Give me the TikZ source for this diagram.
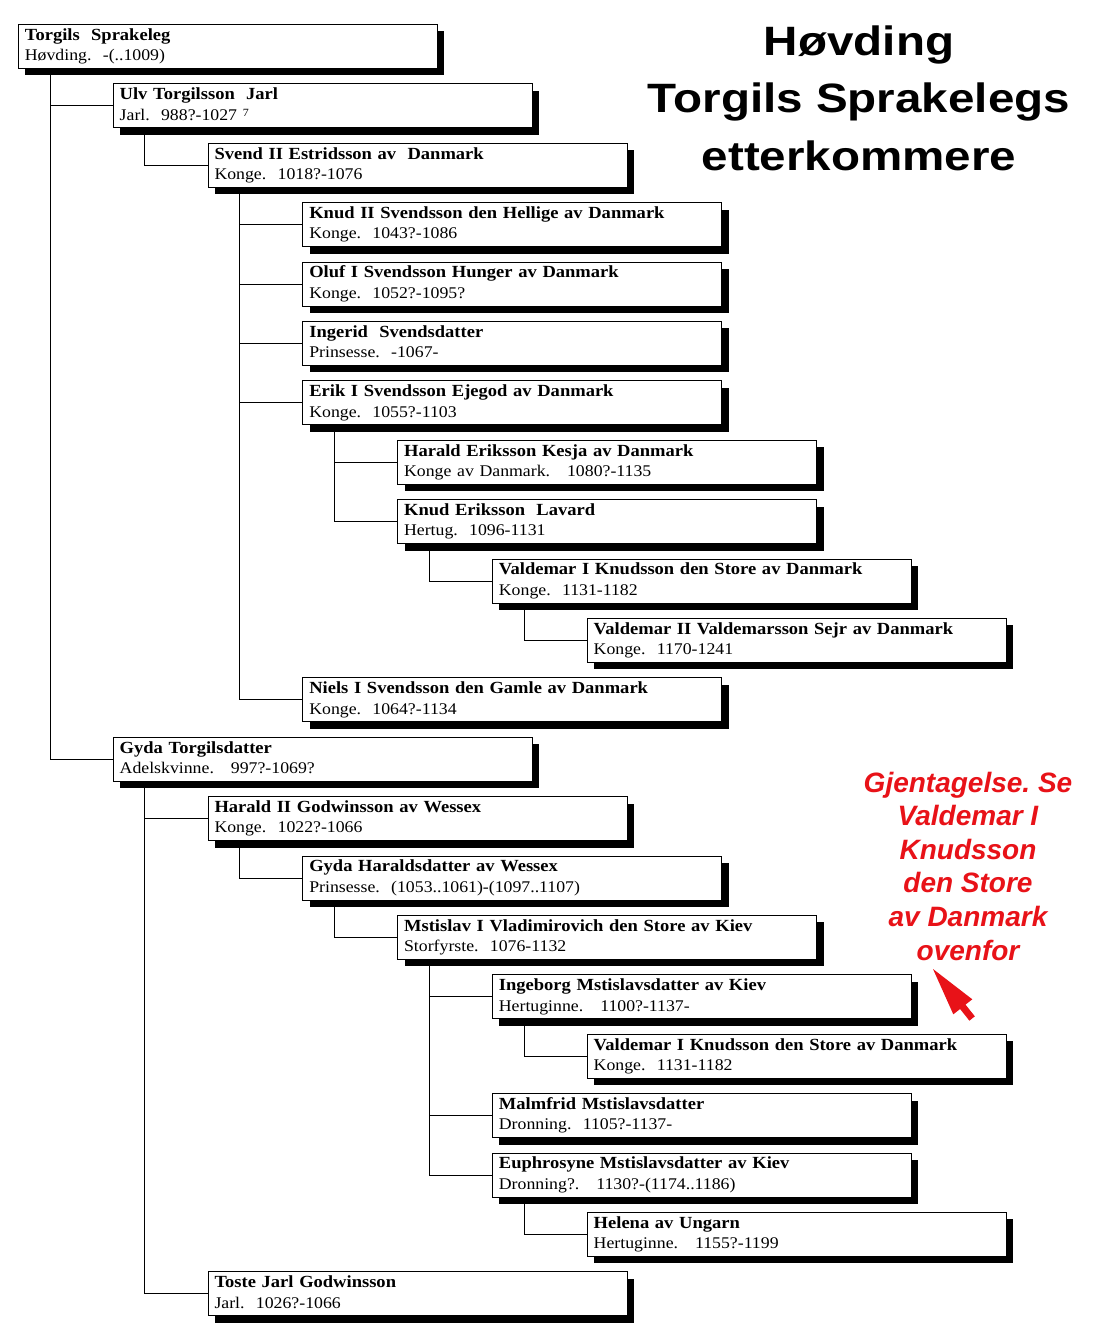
\documentclass[tikz,border=0pt]{standalone}
\usepackage{fontspec}
\setmainfont{Liberation Serif}[FakeStretch=1.09]
\newfontfamily\titlefont{Liberation Sans}[FakeStretch=1.16]
\newfontfamily\notefont{Liberation Sans}
\usetikzlibrary{shadows}
\definecolor{notered}{RGB}{232,18,24}
\frenchspacing
\tikzset{
  pbox/.style={draw=black, line width=0.8pt, fill=white, anchor=north west,
    text width=406pt, inner xsep=6.5pt, inner ysep=1.5pt, minimum height=44pt,
    align=left, font=\fontsize{17}{20.5}\selectfont,
    general shadow={fill=black, shadow xshift=7pt, shadow yshift=-7pt}},
  link/.style={draw=black, line width=0.8pt},
  titlest/.style={anchor=base, inner sep=0pt, font=\titlefont\bfseries\fontsize{41}{45}\selectfont},
}
\newcommand\famnode[5]{%
  \node[pbox] (#1) at ({18+94.8*#2},{24+59.4*#3})
    {\strut\textbf{#4}\\\strut{\fontsize{16.3}{20.5}\selectfont #5}};}
\begin{document}
\begin{tikzpicture}[x=1pt,y=-1pt]
\fill[white] (0,0) rectangle (1117,1344);
\useasboundingbox (0,0) rectangle (1117,1344);

% title
\node[titlest] (t1) at (859,55) {Høvding};
\node[titlest] (t2) at (859,112.5) {Torgils Sprakelegs};
\node[titlest] (t3) at (859,170) {etterkommere};

% boxes
\famnode{torgils}{0}{0}{Torgils~ Sprakeleg}{Høvding.~ -(..1009)}
\famnode{ulv}{1}{1}{Ulv Torgilsson~ Jarl}{Jarl.~ 988?-1027 {\fontsize{11}{11}\selectfont\raisebox{3.5pt}{7}}}
\famnode{svend}{2}{2}{Svend II Estridsson av~ Danmark}{Konge.~ 1018?-1076}
\famnode{knud}{3}{3}{Knud II Svendsson den Hellige av Danmark}{Konge.~ 1043?-1086}
\famnode{oluf}{3}{4}{Oluf I Svendsson Hunger av Danmark}{Konge.~ 1052?-1095?}
\famnode{ingerid}{3}{5}{Ingerid~ Svendsdatter}{Prinsesse.~ -1067-}
\famnode{erik}{3}{6}{Erik I Svendsson Ejegod av Danmark}{Konge.~ 1055?-1103}
\famnode{harald}{4}{7}{Harald Eriksson Kesja av Danmark}{Konge av Danmark.~~ 1080?-1135}
\famnode{knuder}{4}{8}{Knud Eriksson~ Lavard}{Hertug.~ 1096-1131}
\famnode{valdI}{5}{9}{Valdemar I Knudsson den Store av Danmark}{Konge.~ 1131-1182}
\famnode{valdII}{6}{10}{Valdemar II Valdemarsson Sejr av Danmark}{Konge.~ 1170-1241}
\famnode{niels}{3}{11}{Niels I Svendsson den Gamle av Danmark}{Konge.~ 1064?-1134}
\famnode{gyda}{1}{12}{Gyda Torgilsdatter}{Adelskvinne.~~ 997?-1069?}
\famnode{haraldII}{2}{13}{Harald II Godwinsson av Wessex}{Konge.~ 1022?-1066}
\famnode{gydah}{3}{14}{Gyda Haraldsdatter av Wessex}{Prinsesse.~ (1053..1061)-(1097..1107)}
\famnode{mstislav}{4}{15}{Mstislav I Vladimirovich den Store av Kiev}{Storfyrste.~ 1076-1132}
\famnode{ingeborg}{5}{16}{Ingeborg Mstislavsdatter av Kiev}{Hertuginne.~~ 1100?-1137-}
\famnode{valdIb}{6}{17}{Valdemar I Knudsson den Store av Danmark}{Konge.~ 1131-1182}
\famnode{malmfrid}{5}{18}{Malmfrid Mstislavsdatter}{Dronning.~ 1105?-1137-}
\famnode{euphro}{5}{19}{Euphrosyne Mstislavsdatter av Kiev}{Dronning?.~~ 1130?-(1174..1186)}
\famnode{helena}{6}{20}{Helena av Ungarn}{Hertuginne.~~ 1155?-1199}
\famnode{toste}{2}{21}{Toste Jarl Godwinsson}{Jarl.~ 1026?-1066}

% connectors
\foreach \p/\c in {torgils/ulv, torgils/gyda, ulv/svend,
  svend/knud, svend/oluf, svend/ingerid, svend/erik, svend/niels,
  erik/harald, erik/knuder, knuder/valdI, valdI/valdII,
  gyda/haraldII, gyda/toste, haraldII/gydah, gydah/mstislav,
  mstislav/ingeborg, mstislav/malmfrid, mstislav/euphro,
  ingeborg/valdIb, euphro/helena}
  \draw[link] ([xshift=32pt]\p.south west) |- (\c.west);

% note
\node[anchor=north, align=center, inner sep=0pt, text=notered,
  font=\notefont\bfseries\itshape\fontsize{28}{33.6}\selectfont] (note) at (968,771.5)
  {Gjentagelse. Se\\Valdemar I\\Knudsson\\den Store\\av Danmark\\ovenfor};
\fill[notered] (933,969) -- (972.3,999.3) -- (965.5,1004.6) -- (974.8,1016.3)
  -- (969.4,1020.7) -- (960.1,1009.0) -- (953.3,1014.3) -- cycle;
\end{tikzpicture}
\end{document}
